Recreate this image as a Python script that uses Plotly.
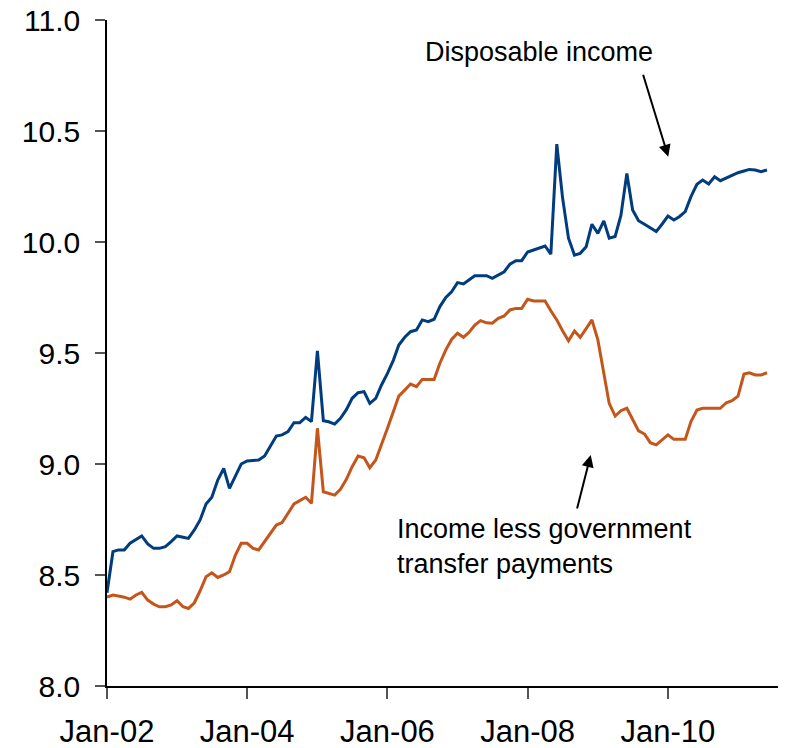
import pandas as pd
import plotly.graph_objects as go

# Monthly observations, Jan-2002 .. May-2011
months = pd.date_range("2002-01-01", periods=113 + 1, freq="MS").strftime("%Y-%m-%d").tolist()

disposable_income = [
    8.42, 8.605, 8.613, 8.613, 8.643, 8.661, 8.676, 8.640, 8.620, 8.620, 8.628, 8.650,
    8.676, 8.670, 8.665, 8.703, 8.748, 8.820, 8.850, 8.928, 8.980, 8.890, 8.950, 9.000,
    9.014, 9.016, 9.018, 9.036, 9.078, 9.126, 9.131, 9.146, 9.186, 9.186, 9.210, 9.191,
    9.510, 9.195, 9.190, 9.180, 9.206, 9.245, 9.296, 9.321, 9.326, 9.273, 9.296, 9.356,
    9.408, 9.468, 9.536, 9.571, 9.596, 9.604, 9.649, 9.641, 9.652, 9.709, 9.750, 9.776,
    9.817, 9.811, 9.829, 9.848, 9.848, 9.848, 9.836, 9.851, 9.866, 9.900, 9.916, 9.916,
    9.955, 9.964, 9.972, 9.982, 9.945, 10.441, 10.200, 10.017, 9.941, 9.949, 9.979, 10.080,
    10.039, 10.095, 10.017, 10.025, 10.120, 10.309, 10.144, 10.096, 10.080, 10.065, 10.047, 10.080,
    10.117, 10.099, 10.114, 10.137, 10.204, 10.260, 10.279, 10.261, 10.294, 10.276, 10.288, 10.300,
    10.312, 10.320, 10.327, 10.324, 10.317, 10.324,
]

income_less_transfers = [
    8.400, 8.410, 8.405, 8.400, 8.391, 8.410, 8.422, 8.387, 8.369, 8.357, 8.357, 8.365,
    8.384, 8.357, 8.349, 8.375, 8.429, 8.492, 8.510, 8.489, 8.500, 8.515, 8.590, 8.643,
    8.643, 8.620, 8.613, 8.650, 8.685, 8.725, 8.736, 8.781, 8.820, 8.835, 8.850, 8.823,
    9.161, 8.875, 8.868, 8.860, 8.886, 8.931, 8.988, 9.036, 9.028, 8.983, 9.018, 9.093,
    9.161, 9.236, 9.306, 9.333, 9.360, 9.348, 9.381, 9.381, 9.381, 9.454, 9.514, 9.561,
    9.589, 9.571, 9.592, 9.626, 9.646, 9.636, 9.634, 9.656, 9.667, 9.694, 9.701, 9.701,
    9.742, 9.734, 9.734, 9.734, 9.690, 9.649, 9.600, 9.555, 9.599, 9.571, 9.610, 9.649,
    9.559, 9.409, 9.273, 9.216, 9.240, 9.251, 9.198, 9.149, 9.135, 9.096, 9.086, 9.110,
    9.131, 9.111, 9.111, 9.111, 9.191, 9.243, 9.251, 9.251, 9.251, 9.251, 9.276, 9.285,
    9.306, 9.405, 9.411, 9.401, 9.401, 9.411,
]

y_ticks = [8.0, 8.5, 9.0, 9.5, 10.0, 10.5, 11.0]
x_ticks = ["2002-01-01", "2004-01-01", "2006-01-01", "2008-01-01", "2010-01-01"]
x_tick_labels = ["Jan-02", "Jan-04", "Jan-06", "Jan-08", "Jan-10"]

BLUE = "#003c7e"
ORANGE = "#c5561b"
FONT = "Liberation Sans, Arial, sans-serif"

fig = go.Figure()
fig.add_trace(go.Scatter(x=months, y=disposable_income, mode="lines",
                         line=dict(color=BLUE, width=3), name="Disposable income"))
fig.add_trace(go.Scatter(x=months, y=income_less_transfers, mode="lines",
                         line=dict(color=ORANGE, width=3),
                         name="Income less government transfer payments"))

# the page body adds an 8px offset, so the figure is 8px smaller than the window
fig.update_layout(
    width=778, height=740,
    margin=dict(l=99, r=0, t=12, b=62, autoexpand=False),
    paper_bgcolor="white", plot_bgcolor="white",
    showlegend=False,
    font=dict(family=FONT, color="black"),
)
fig.update_xaxes(
    type="date", range=["2002-01-01", "2011-09-08"], automargin=False,
    tickvals=x_ticks, ticktext=x_tick_labels, ticklabeloverflow="allow",
    showline=True, linecolor="black", linewidth=1.5,
    ticks="outside", ticklen=11, tickcolor="#555", tickwidth=1.5,
    showgrid=False, zeroline=False,
    tickfont=dict(size=31, family=FONT, color="black"),
    ticklabelstandoff=6,
)
fig.update_yaxes(
    range=[8.0, 11.0], tickvals=y_ticks, tickformat=".1f", automargin=False,
    ticklabeloverflow="allow",
    showline=True, linecolor="black", linewidth=1.5,
    ticks="outside", ticklen=10, tickcolor="#555", tickwidth=1.5,
    showgrid=False, zeroline=False,
    tickfont=dict(size=30, family=FONT, color="black"),
    ticklabelstandoff=9,
)

fig.add_annotation(xref="paper", yref="paper", x=0.4654, y=0.952,
                   xanchor="left", yanchor="middle", showarrow=False,
                   text="Disposable income", font=dict(size=27, family=FONT, color="black"))
fig.add_annotation(xref="paper", yref="paper", x=0.8266, y=0.7947,
                   ax=-25.6, ay=-83.4, text="", showarrow=True,
                   arrowhead=2, arrowsize=1.2, arrowwidth=2, arrowcolor="black")
fig.add_annotation(xref="paper", yref="paper", x=0.4242, y=0.2095,
                   xanchor="left", yanchor="middle", align="left", showarrow=False,
                   text="Income less government<br>transfer payments",
                   font=dict(size=27, family=FONT, color="black"))
fig.add_annotation(xref="paper", yref="paper", x=0.7124, y=0.3468,
                   ax=-14, ay=55, text="", showarrow=True,
                   arrowhead=2, arrowsize=1.2, arrowwidth=2, arrowcolor="black")

fig.write_html("out.html")
